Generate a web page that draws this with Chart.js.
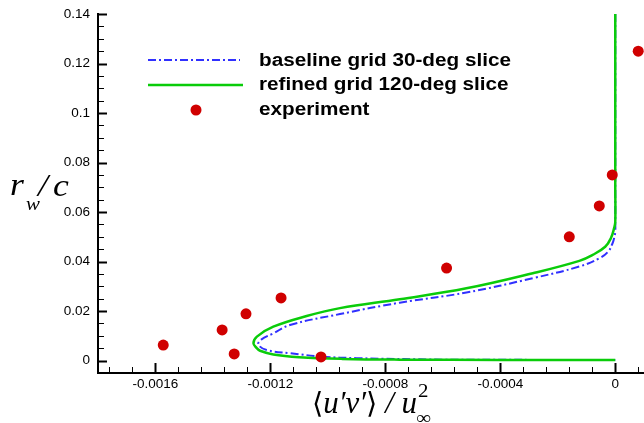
<!DOCTYPE html>
<html>
<head>
<meta charset="utf-8">
<script src="https://cdn.jsdelivr.net/npm/chart.js@4/dist/chart.umd.min.js"></script>
<style>
  html, body { margin: 0; padding: 0; background: #fff; overflow: hidden; }
  canvas { display: block; }
</style>
</head>
<body>
<canvas id="profileChart" width="644" height="423"></canvas>
<script>
// series names (legend)
const seriesNames = ['baseline grid 30-deg slice', 'refined grid 120-deg slice', 'experiment'];

// baseline grid, 30-deg slice (top -> bottom along the curve)
const baseX = [0, 0, 0, -0.000004, -0.0000094, -0.000025, -0.0000556, -0.000125, -0.000287, -0.000518,
               -0.00075, -0.000958, -0.001132, -0.00119, -0.001232, -0.001242, -0.001213, -0.001132,
               -0.001016, -0.0009, -0.0006, -0.0003, 0];
const baseY = [0.14, 0.056, 0.052, 0.0495, 0.0474, 0.0440, 0.0413, 0.0380, 0.0333, 0.0275,
               0.0234, 0.0188, 0.0144, 0.0110, 0.0085, 0.0065, 0.0043, 0.0030,
               0.0016, 0.0010, 0.0004, 0.0003, 0.0003];

// refined grid, 120-deg slice
const fineX = [0, 0, 0, -0.000004, -0.000015, -0.000035, -0.0000788, -0.000125, -0.000287, -0.000518,
               -0.00075, -0.000958, -0.001074, -0.00119, -0.001247, -0.001259, -0.001247, -0.001236,
               -0.00119, -0.0011, -0.00095, -0.00075, -0.0004, 0];
const fineY = [0.14, 0.07, 0.056, 0.0535, 0.0495, 0.0460, 0.0427, 0.0403, 0.0353, 0.0292,
               0.0248, 0.0212, 0.0180, 0.0137, 0.0097, 0.0070, 0.0050, 0.0040,
               0.0025, 0.0014, 0.0007, 0.0004, 0.0003, 0.0003];

// experiment
const expX = [-0.001573, -0.001368, -0.001326, -0.001285, -0.001163, -0.001024,
              -0.000587, -0.00016, -0.0000556, -0.0000104, 0.0000799];
const expY = [0.0063, 0.0124, 0.0027, 0.0189, 0.0253, 0.0015,
              0.0374, 0.0500, 0.0625, 0.0750, 0.1250];

// ticks
const xTicks = [-0.0016, -0.0012, -0.0008, -0.0004, 0];
const xTickLabels = ['-0.0016', '-0.0012', '-0.0008', '-0.0004', '0'];
const yTicks = [0, 0.02, 0.04, 0.06, 0.08, 0.1, 0.12, 0.14];
const yTickLabels = ['0', '0.02', '0.04', '0.06', '0.08', '0.1', '0.12', '0.14'];
const xMinorStep = 0.00008;
const yMinorStep = 0.005;

const BLUE = 'rgb(48,48,255)';
const GREEN = 'rgb(10,204,10)';
const RED = 'rgb(208,0,0)';
const DASH = [8, 3, 2, 3];

function toPoints(xs, ys) {
    return xs.map((x, i) => ({ x: x, y: ys[i] }));
}

// draw text pieces one after another, stretched horizontally by sx
function drawPieces(ctx, pieces, x0, baseline, sx) {
    let x = x0;
    pieces.forEach(p => {
        ctx.font = p.font;
        ctx.save();
        ctx.translate(x, baseline + (p.dy || 0));
        ctx.scale(sx, 1);
        ctx.fillText(p.text, 0, 0);
        ctx.restore();
        x += ctx.measureText(p.text).width * sx;
    });
}

const decorPlugin = {
    id: 'decor',
    afterDraw(chart) {
        const ctx = chart.ctx;
        const xs = chart.scales.x, ys = chart.scales.y;
        const area = chart.chartArea;
        ctx.save();
        ctx.strokeStyle = '#000';

        // inward ticks, x axis
        function drawXTick(v) {
            const major = xTicks.some(t => Math.abs(t - v) < 1e-9);
            const px = Math.round(xs.getPixelForValue(v)) + 0.5;
            ctx.lineWidth = major ? 2 : 1;
            ctx.beginPath();
            ctx.moveTo(px, area.bottom);
            ctx.lineTo(px, area.bottom - (major ? 10 : 6));
            ctx.stroke();
        }
        for (let v = xTicks[0]; v >= xs.min - 1e-12; v -= xMinorStep) drawXTick(v);
        for (let v = xTicks[0] + xMinorStep; v <= xs.max + 1e-12; v += xMinorStep) drawXTick(v);
        // inward ticks, y axis
        for (let v = 0; v <= ys.max + 1e-12; v += yMinorStep) {
            const major = yTicks.some(t => Math.abs(t - v) < 1e-9);
            const py = Math.round(ys.getPixelForValue(v)) + 0.5;
            ctx.lineWidth = major ? 2 : 1;
            ctx.beginPath();
            ctx.moveTo(area.left, py);
            ctx.lineTo(area.left + (major ? 9 : 6), py);
            ctx.stroke();
        }

        // legend
        ctx.lineWidth = 2;
        ctx.strokeStyle = BLUE;
        ctx.setLineDash(DASH);
        ctx.beginPath(); ctx.moveTo(148, 60); ctx.lineTo(240, 60); ctx.stroke();
        ctx.setLineDash([]);
        ctx.lineWidth = 2.5;
        ctx.strokeStyle = GREEN;
        ctx.beginPath(); ctx.moveTo(148, 85); ctx.lineTo(243, 85); ctx.stroke();
        ctx.fillStyle = RED;
        ctx.beginPath(); ctx.arc(196, 110, 5.5, 0, Math.PI * 2); ctx.fill();

        ctx.fillStyle = '#000';
        ctx.textBaseline = 'alphabetic';
        const legendFont = 'bold 18px "Liberation Sans", Arial, sans-serif';
        [[seriesNames[0], 66], [seriesNames[1], 90], [seriesNames[2], 115]].forEach(([t, y]) => {
            drawPieces(ctx, [{ text: t, font: legendFont }], 259, y, 1.15);
        });

        // y axis title: r_w / c
        const serifIt = 'italic 31px "Liberation Serif", "Times New Roman", serif';
        const serifItSmall = 'italic 19px "Liberation Serif", "Times New Roman", serif';
        drawPieces(ctx, [{ text: 'r', font: serifIt }], 10, 195, 1.15);
        drawPieces(ctx, [{ text: 'w', font: serifItSmall }], 26, 210, 1.1);
        drawPieces(ctx, [{ text: '/', font: serifIt }], 38, 196, 1.15);
        drawPieces(ctx, [{ text: 'c', font: serifIt }], 53, 196, 1.15);

        // x axis title: <u'v'> / u_inf^2
        const bracketFont = '29px "DejaVu Sans", serif';
        const main = [
            { text: '\u27E8', font: bracketFont },
            { text: 'u\u2032v\u2032', font: serifIt },
            { text: '\u27E9', font: bracketFont },
            { text: ' / u', font: serifIt }
        ];
        let w = 0;
        main.forEach(p => { ctx.font = p.font; w += ctx.measureText(p.text).width; });
        drawPieces(ctx, main, 312, 413, (417 - 312) / w);
        drawPieces(ctx, [{ text: '2', font: '19px "Liberation Serif", serif' }], 418, 397, 1.1);
        drawPieces(ctx, [{ text: '\u221E', font: '19px "Liberation Serif", serif' }], 416, 424, 1.1);

        ctx.restore();
    }
};

new Chart(document.getElementById('profileChart').getContext('2d'), {
    type: 'scatter',
    data: {
        datasets: [{
            label: seriesNames[2],
            data: toPoints(expX, expY),
            showLine: false,
            pointRadius: 5.5,
            pointBackgroundColor: RED,
            pointBorderWidth: 0,
            clip: false,
            order: 0
        }, {
            label: seriesNames[1],
            data: toPoints(fineX, fineY),
            showLine: true,
            borderColor: GREEN,
            borderWidth: 2.5,
            pointRadius: 0,
            tension: 0.4,
            order: 1
        }, {
            label: seriesNames[0],
            data: toPoints(baseX, baseY),
            showLine: true,
            borderColor: BLUE,
            borderWidth: 2,
            borderDash: DASH,
            pointRadius: 0,
            tension: 0.4,
            order: 2
        }]
    },
    options: {
        responsive: false,
        animation: false,
        devicePixelRatio: 1,
        layout: { autoPadding: false, padding: { top: 14, right: 0, bottom: 0, left: 0 } },
        plugins: {
            legend: { display: false },
            tooltip: { enabled: false }
        },
        scales: {
            x: {
                type: 'linear',
                min: -0.0018,
                max: 0.0001,
                grid: { display: false, drawTicks: false },
                border: { display: true, color: '#000', width: 2 },
                afterBuildTicks: scale => { scale.ticks = xTicks.map(v => ({ value: v })); },
                afterFit: scale => {
                    scale.height = 50;
                    scale.paddingLeft = 0;
                    scale.paddingRight = 0;
                },
                ticks: {
                    autoSkip: false,
                    maxRotation: 0,
                    padding: 3,
                    color: '#000',
                    font: { family: '"Liberation Sans", Arial, sans-serif', size: 13.5 },
                    callback: (value, index) => xTickLabels[index]
                }
            },
            y: {
                type: 'linear',
                min: -0.005,
                max: 0.14,
                grid: { display: false, drawTicks: false },
                border: { display: true, color: '#000', width: 2 },
                afterBuildTicks: scale => { scale.ticks = yTicks.map(v => ({ value: v })); },
                afterFit: scale => {
                    scale.width = 98;
                    scale.paddingTop = 0;
                    scale.paddingBottom = 0;
                },
                ticks: {
                    autoSkip: false,
                    padding: 8,
                    color: '#000',
                    font: { family: '"Liberation Sans", Arial, sans-serif', size: 13.5 },
                    callback: (value, index) => yTickLabels[index]
                }
            }
        }
    },
    plugins: [decorPlugin]
});
</script>
</body>
</html>
